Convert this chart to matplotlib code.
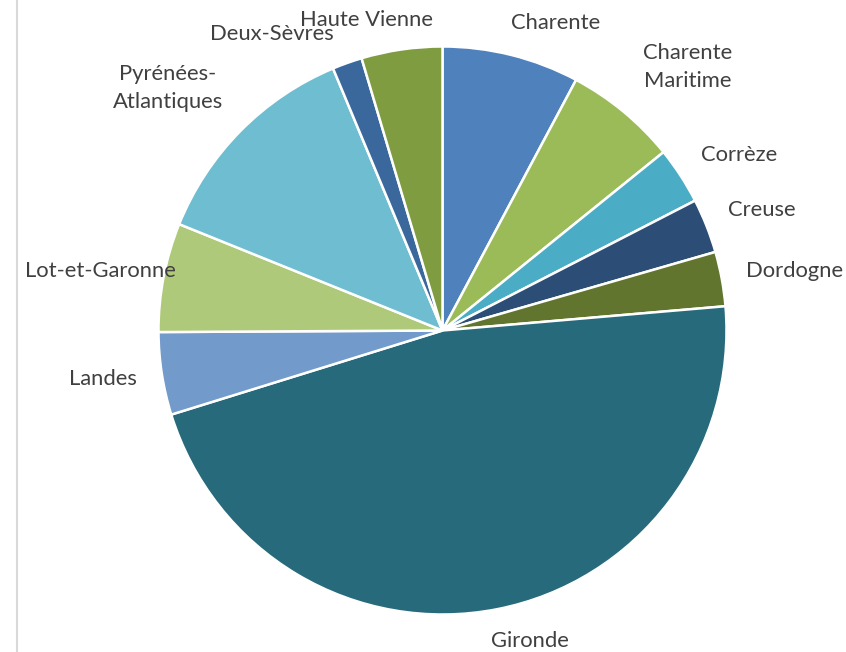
import matplotlib.pyplot as plt
from matplotlib.lines import Line2D

# Departements of Nouvelle-Aquitaine, share of total (%)
departements = ["Charente", "Charente\nMaritime", "Corrèze", "Creuse", "Dordogne",
                "Gironde", "Landes", "Lot-et-Garonne", "Pyrénées-\nAtlantiques",
                "Deux-Sèvres", "Haute Vienne"]
parts = [7.8, 6.4, 3.25, 3.1, 3.1, 46.6, 4.7, 6.2, 12.6, 1.7, 4.6]
couleurs = ["#4F81BD", "#9BBB59", "#4BACC6", "#2C4D75", "#62752F", "#276A7C",
            "#729ACA", "#AFC97A", "#6FBDD1", "#3B689C", "#7F9C41"]

# label placement (in pie radius units, relative to centre)
label_pos = [(0.400, 1.083), (0.864, 0.928), (1.044, 0.618), (1.125, 0.424),
             (1.241, 0.210), (0.308, -1.093), (-1.195, -0.171), (-1.206, 0.210),
             (-0.967, 0.854), (-0.600, 1.044), (-0.269, 1.093)]

W, H = 846, 652
cx, cy, R = 442.5, 330.5, 284.0

fig = plt.figure(figsize=(W / 100, H / 100), dpi=100)
ax = fig.add_axes([0, 0, 1, 1])

ax.pie(parts, colors=couleurs, startangle=90, counterclock=False, radius=1.0,
       wedgeprops=dict(edgecolor="white", linewidth=1.8), frame=True)
ax.set_xlim(-cx / R, (W - cx) / R)
ax.set_ylim(-(H - cy) / R, cy / R)
ax.set_aspect("auto")
ax.axis("off")

for name, (x, y) in zip(departements, label_pos):
    ax.text(x, y, name, ha="center", va="center", fontsize=15.8,
            family="Lato", color="#404040", linespacing=1.5)

# thin border line on the left
fig.add_artist(Line2D([16.5 / W, 16.5 / W], [0, 1], transform=fig.transFigure,
                      color="#D9D9D9", linewidth=1.5))

fig.savefig("out.png", dpi=100)
